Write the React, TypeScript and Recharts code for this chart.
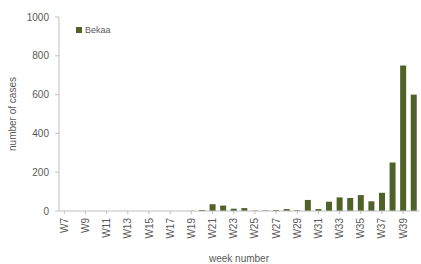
import React from "react";
import { BarChart, Bar, XAxis, YAxis } from "recharts";

const weeks = [
  "W7","W8","W9","W10","W11","W12","W13","W14","W15","W16","W17","W18","W19","W20",
  "W21","W22","W23","W24","W25","W26","W27","W28","W29","W30","W31","W32","W33","W34",
  "W35","W36","W37","W38","W39","W40",
];
const bekaa = [
  0,0,0,0,0,0,0,0,0,0,0,0,1,5,
  35,28,12,15,2,3,5,10,4,57,10,48,70,67,
  82,50,94,250,750,600,
];
const yTicks = [0, 200, 400, 600, 800, 1000];
const seriesName = "Bekaa";

const data = weeks.map((w, i) => ({ week: w, Bekaa: bekaa[i] }));

const FONT = "'Liberation Sans', Arial, sans-serif";
const GREY = "#595959";
const BAR = "#4F6228";

const XTick = (props: any) => {
  const { x, y, payload } = props;
  return (
    <text
      x={x}
      y={y}
      transform={`rotate(-90 ${x} ${y})`}
      textAnchor="end"
      dominantBaseline="central"
      fontSize={10}
      fontFamily={FONT}
      fill={GREY}
    >
      {payload.value}
    </text>
  );
};

const YLabel = (props: any) => {
  const vb = props.viewBox || {};
  const cx = 12;
  const cy = vb.y + vb.height / 2;
  return (
    <text
      x={cx}
      y={cy}
      transform={`rotate(-90 ${cx} ${cy})`}
      textAnchor="middle"
      dominantBaseline="central"
      fontSize={10}
      fontFamily={FONT}
      fill={GREY}
    >
      number of cases
    </text>
  );
};

const XLabel = (props: any) => {
  const vb = props.viewBox || {};
  const cx = vb.x + vb.width / 2;
  return (
    <text
      x={cx}
      y={262}
      textAnchor="middle"
      fontSize={10}
      fontFamily={FONT}
      fill={GREY}
    >
      week number
    </text>
  );
};

export default function App() {
  return (
    <div style={{ position: "absolute", left: 0, top: 0, width: 421, height: 264, background: "#fff" }}>
      <BarChart
        width={421}
        height={264}
        data={data}
        margin={{ top: 17, right: 2, bottom: 0, left: 0 }}
        barCategoryGap="22%"
      >
        <YAxis
          width={59}
          domain={[0, 1000]}
          ticks={yTicks}
          interval={0}
          tickSize={4}
          tickMargin={6}
          axisLine={{ stroke: "#bfbfbf" }}
          tickLine={{ stroke: "#bfbfbf" }}
          tick={{ fontSize: 10, fontFamily: FONT, fill: GREY }}
          label={<YLabel />}
        />
        <XAxis
          dataKey="week"
          height={53}
          interval={1}
          tickSize={3}
          tickMargin={4}
          axisLine={{ stroke: "#bfbfbf" }}
          tickLine={{ stroke: "#bfbfbf" }}
          tick={<XTick />}
          label={<XLabel />}
        />
        <Bar dataKey="Bekaa" name={seriesName} fill={BAR} isAnimationActive={false} />
      </BarChart>
      <div
        style={{
          position: "absolute",
          left: 76,
          top: 25,
          display: "flex",
          alignItems: "center",
          fontFamily: FONT,
          fontSize: 9,
          color: GREY,
        }}
      >
        <span style={{ width: 6, height: 6, background: BAR, display: "inline-block", marginRight: 3 }} />
        <span>{seriesName}</span>
      </div>
    </div>
  );
}
